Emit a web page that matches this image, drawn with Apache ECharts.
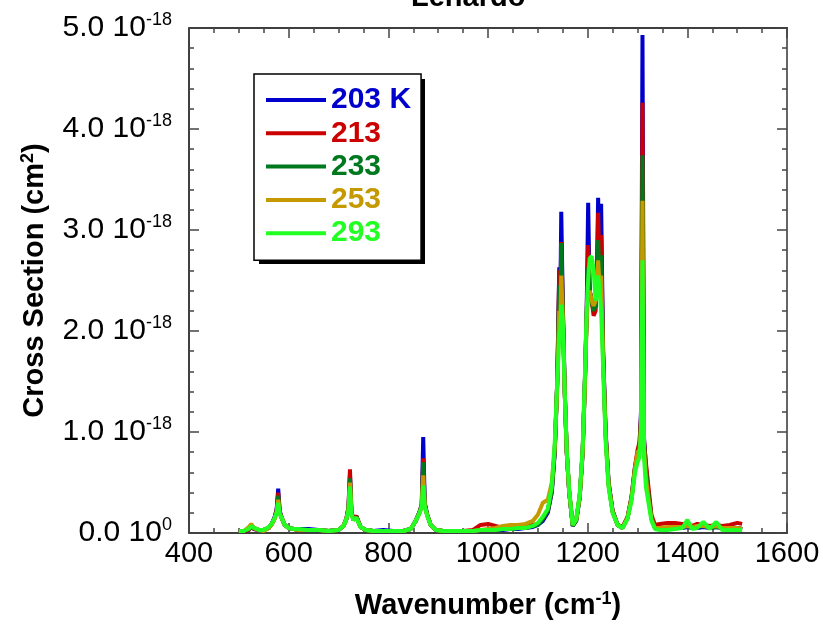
<!DOCTYPE html>
<html>
<head>
<meta charset="utf-8">
<script src="https://cdn.jsdelivr.net/npm/echarts@6/dist/echarts.min.js"></script>
<style>
  html, body { margin: 0; padding: 0; background: #fff; }
  #chart { width: 823px; height: 626px; }
</style>
</head>
<body>
<div id="chart"></div>
<script>
// wavenumber grid (cm-1), cross sections in units of 1e-18 cm2
const wavenumber = [
  500,510,520,525,530,540,550,560,566,572,
  576,579,582,586,592,600,610,620,640,660,
  680,700,710,716,720,723,726,730,736,744,
  755,770,790,810,830,845,855,862,867,870,
  873,878,885,895,910,930,950,970,985,1000,
  1015,1030,1045,1060,1075,1090,1100,1110,1120,1128,
  1134,1139,1143,1145,1147,1150,1154,1158,1163,1170,
  1177,1184,1190,1195,1198,1201,1204,1208,1212,1216,
  1219,1221,1224,1227,1231,1236,1242,1250,1260,1270,
  1280,1288,1295,1300,1304,1307,1310,1313,1317,1322,
  1328,1335,1345,1360,1375,1390,1400,1410,1420,1432,
  1445,1458,1470,1485,1500,1510
];
const cs203 = [
  .02,.02,.03,.06,.04,.03,.03,.05,.09,.16,
  .24,.44,.22,.15,.08,.05,.04,.04,.04,.03,
  .02,.03,.07,.14,.25,.58,.20,.13,.16,.06,
  .03,.02,.03,.02,.02,.04,.12,.20,.28,.95,
  .30,.18,.08,.03,.02,.02,.02,.02,.03,.03,
  .03,.03,.04,.04,.05,.06,.08,.12,.20,.40,
  .80,1.50,2.63,2.20,3.18,2.30,1.40,.80,.40,.07,
  .12,.35,.80,1.60,2.20,3.27,2.40,2.30,2.20,2.25,
  2.70,3.32,2.60,3.26,1.80,1.00,.50,.22,.08,.05,
  .15,.35,.65,.78,.85,1.20,4.93,.95,.65,.40,
  .15,.06,.04,.04,.05,.05,.06,.05,.05,.06,
  .05,.06,.05,.06,.05,.04
];
const cs213 = [
  .02,.02,.03,.07,.04,.03,.03,.05,.09,.15,
  .23,.40,.21,.15,.08,.05,.04,.03,.03,.03,
  .02,.03,.07,.15,.26,.63,.21,.14,.17,.06,
  .03,.02,.02,.02,.02,.04,.12,.20,.28,.74,
  .29,.18,.08,.03,.02,.02,.02,.03,.08,.09,
  .07,.05,.05,.05,.06,.08,.09,.14,.22,.42,
  .82,1.52,2.60,2.20,2.88,2.25,1.40,.80,.40,.08,
  .13,.36,.82,1.60,2.20,2.85,2.40,2.30,2.15,2.20,
  2.60,3.17,2.55,2.95,1.80,1.00,.50,.22,.08,.06,
  .16,.36,.66,.82,.90,1.15,4.26,.92,.69,.45,
  .18,.08,.09,.10,.10,.09,.08,.07,.09,.08,
  .07,.08,.07,.08,.10,.09
];
const cs233 = [
  .02,.02,.04,.08,.05,.03,.03,.05,.09,.15,
  .22,.37,.20,.15,.08,.05,.04,.03,.03,.03,
  .02,.03,.07,.14,.24,.54,.20,.13,.16,.06,
  .03,.02,.02,.02,.02,.04,.12,.20,.27,.70,
  .28,.18,.08,.03,.02,.02,.02,.02,.03,.03,
  .03,.04,.04,.05,.05,.07,.08,.14,.22,.42,
  .82,1.50,2.45,2.15,2.87,2.20,1.40,.80,.40,.07,
  .12,.35,.80,1.58,2.15,2.63,2.40,2.30,2.20,2.25,
  2.55,2.90,2.50,2.75,1.75,.98,.48,.21,.08,.05,
  .15,.34,.64,.76,.84,1.10,3.74,.88,.62,.38,
  .15,.05,.05,.05,.06,.06,.07,.05,.06,.07,
  .05,.06,.05,.05,.05,.04
];
const cs253 = [
  .02,.02,.06,.09,.05,.03,.02,.05,.08,.14,
  .21,.33,.19,.15,.08,.05,.04,.03,.03,.03,
  .02,.03,.07,.14,.23,.50,.19,.13,.15,.06,
  .03,.02,.02,.02,.02,.04,.12,.19,.26,.57,
  .27,.17,.08,.03,.02,.02,.02,.02,.03,.04,
  .05,.07,.08,.08,.09,.12,.18,.30,.33,.50,
  .85,1.45,2.20,2.05,2.55,2.15,1.38,.80,.40,.08,
  .13,.36,.80,1.55,2.10,2.36,2.40,2.30,2.25,2.30,
  2.50,2.70,2.45,2.55,1.70,.95,.47,.21,.08,.05,
  .15,.34,.64,.80,.82,1.05,3.29,.84,.55,.34,
  .14,.05,.05,.06,.06,.06,.07,.06,.07,.07,
  .06,.07,.05,.05,.05,.04
];
const cs293 = [
  .02,.02,.04,.07,.05,.03,.03,.06,.09,.15,
  .20,.30,.19,.15,.08,.05,.04,.04,.03,.03,
  .02,.03,.07,.14,.22,.46,.18,.13,.15,.06,
  .03,.02,.02,.02,.02,.04,.12,.19,.26,.47,
  .26,.17,.08,.03,.02,.02,.02,.02,.03,.03,
  .03,.04,.04,.05,.05,.07,.10,.16,.24,.46,
  .90,1.50,1.95,2.00,2.26,2.10,1.40,.82,.42,.08,
  .14,.38,.85,1.65,2.20,2.50,2.72,2.74,2.60,2.30,
  2.45,2.55,2.40,2.20,1.65,.92,.45,.20,.08,.05,
  .14,.32,.60,.70,.75,1.00,2.70,.75,.45,.30,
  .12,.04,.03,.03,.04,.05,.13,.04,.05,.11,
  .04,.11,.03,.03,.03,.03
];

const seriesNames = ['203 K', '213', '233', '253', '293'];
const seriesValues = [cs203, cs213, cs233, cs253, cs293];
const colors = ['#0000cc', '#cc0000', '#00781e', '#c49a00', '#22ff22'];

const yMantissa = ['0.0', '1.0', '2.0', '3.0', '4.0', '5.0'];
const yExponent = ['0', '-18', '-18', '-18', '-18', '-18'];

const FONT = '"Liberation Sans", Arial, Helvetica, sans-serif';

const chart = echarts.init(document.getElementById('chart'));

const tickStyle = { color: '#444', width: 1.5 };
const axisLineStyle = { color: '#000', width: 1.5 };

chart.setOption({
  backgroundColor: '#fff',
  animation: false,
  title: {
    text: 'Lenardo',
    left: 406,
    top: -22,
    textStyle: { fontFamily: FONT, fontSize: 29, fontWeight: 'bold', color: '#000' }
  },
  grid: { left: 189, right: 36, top: 28, bottom: 93 },
  // drop shadow behind the legend box
  graphic: [{
    type: 'rect',
    left: 259, top: 79,
    z: 0,
    shape: { width: 166, height: 185 },
    style: { fill: '#000' }
  }],
  legend: {
    orient: 'vertical',
    left: 254,
    top: 74,
    z: 10,
    icon: 'rect',
    itemWidth: 60,
    itemHeight: 4,
    itemGap: 3.3,
    padding: [11, 10, 12, 12],
    backgroundColor: '#fff',
    borderColor: '#000',
    borderWidth: 1.5,
    borderRadius: 0,
    data: seriesNames.map((n, i) => ({
      name: n,
      textStyle: { color: colors[i] }
    })),
    textStyle: {
      fontFamily: FONT, fontSize: 30, fontWeight: 'bold', lineHeight: 30
    }
  },
  xAxis: [{
    type: 'value',
    min: 400, max: 1600, interval: 200,
    name: '{a|Wavenumber (cm}{b|-1}{a|)}',
    nameLocation: 'middle',
    nameGap: 57,
    nameTextStyle: {
      rich: {
        a: { fontFamily: FONT, fontSize: 29, fontWeight: 'bold', color: '#000', lineHeight: 32 },
        b: { fontFamily: FONT, fontSize: 18, fontWeight: 'bold', color: '#000', verticalAlign: 'top', lineHeight: 18 }
      }
    },
    axisLine: { onZero: false, lineStyle: axisLineStyle },
    axisTick: { inside: true, length: 10, lineStyle: tickStyle },
    minorTick: { show: true, splitNumber: 4, length: 5, lineStyle: tickStyle },
    splitLine: { show: false },
    axisLabel: {
      margin: 6, fontFamily: FONT, fontSize: 29, color: '#000',
      formatter: function (v) { return String(v); }
    }
  }, {
    type: 'value',
    position: 'top',
    min: 400, max: 1600, interval: 200,
    axisLine: { onZero: false, lineStyle: axisLineStyle },
    axisTick: { inside: true, length: 10, lineStyle: tickStyle },
    minorTick: { show: true, splitNumber: 4, length: 5, lineStyle: tickStyle },
    splitLine: { show: false },
    axisLabel: { show: false }
  }],
  yAxis: [{
    type: 'value',
    min: 0, max: 5, interval: 1,
    name: '{a|Cross Section (cm}{b|2}{a|)}',
    nameLocation: 'middle',
    nameGap: 138,
    nameTextStyle: {
      rich: {
        a: { fontFamily: FONT, fontSize: 29, fontWeight: 'bold', color: '#000', lineHeight: 32 },
        b: { fontFamily: FONT, fontSize: 18, fontWeight: 'bold', color: '#000', verticalAlign: 'top', lineHeight: 18 }
      }
    },
    axisLine: { onZero: false, lineStyle: axisLineStyle },
    axisTick: { inside: true, length: 10, lineStyle: tickStyle },
    minorTick: { show: true, splitNumber: 5, length: 5, lineStyle: tickStyle },
    splitLine: { show: false },
    axisLabel: {
      margin: 17,
      formatter: function (val) {
        const i = Math.round(val);
        return '{m|' + yMantissa[i] + ' 10}{e|' + yExponent[i] + '}';
      },
      rich: {
        m: { fontFamily: FONT, fontSize: 30, color: '#000', lineHeight: 34 },
        e: { fontFamily: FONT, fontSize: 18, color: '#000', verticalAlign: 'top', lineHeight: 18 }
      }
    }
  }, {
    type: 'value',
    position: 'right',
    min: 0, max: 5, interval: 1,
    axisLine: { onZero: false, lineStyle: { color: '#666', width: 2 } },
    axisTick: { inside: true, length: 10, lineStyle: tickStyle },
    minorTick: { show: true, splitNumber: 5, length: 5, lineStyle: tickStyle },
    splitLine: { show: false },
    axisLabel: { show: false }
  }],
  series: seriesNames.map((n, i) => ({
    name: n,
    type: 'line',
    xAxisIndex: 0,
    yAxisIndex: 0,
    showSymbol: false,
    symbol: 'none',
    color: colors[i],
    lineStyle: { width: 4, color: colors[i], join: 'bevel' },
    z: 2 + i,
    data: wavenumber.map((w, k) => [w, seriesValues[i][k]])
  }))
});
</script>
</body>
</html>
